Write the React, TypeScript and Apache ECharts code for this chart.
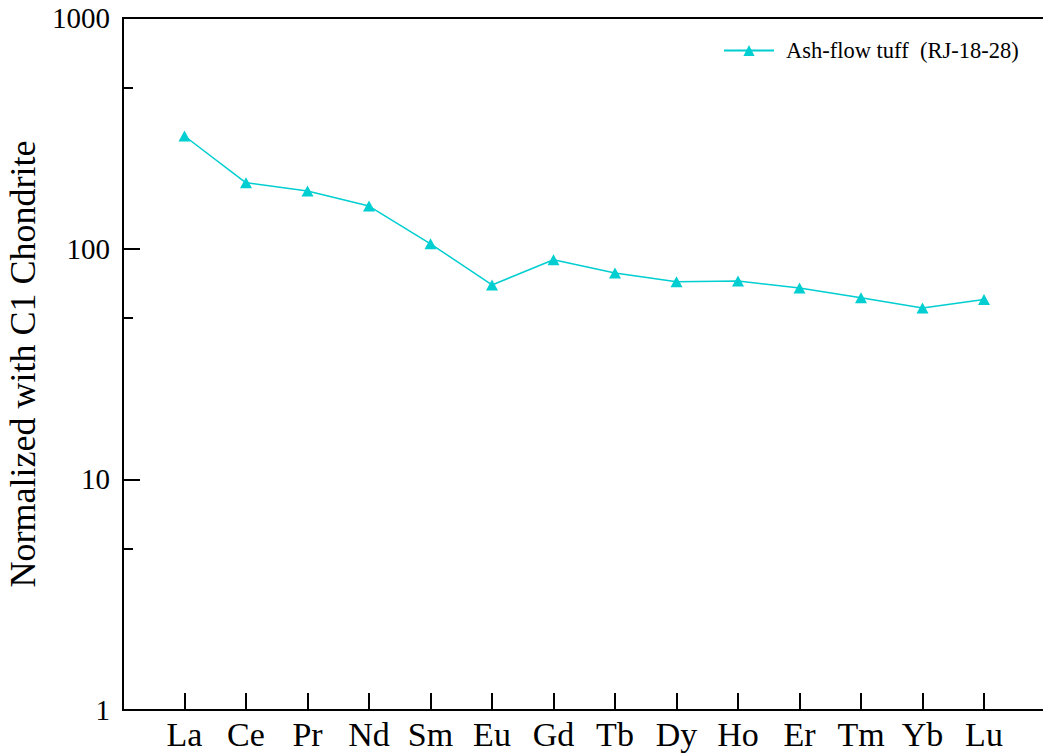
import React, { useEffect, useRef } from "react";
import * as echarts from "echarts";

const elements = ["La", "Ce", "Pr", "Nd", "Sm", "Eu", "Gd", "Tb", "Dy", "Ho", "Er", "Tm", "Yb", "Lu"];
const values = [308, 193, 178, 153, 105, 69.6, 89.5, 78.5, 71.8, 72.4, 67.6, 61.3, 55.3, 60.2];
const seriesName = "Ash-flow tuff  (RJ-18-28)";
const minorTickValues = [5, 50, 500];

const FONT = "'Liberation Serif', 'Times New Roman', serif";
const COLOR = "#00CED1";

export default function App() {
  const ref = useRef<HTMLDivElement>(null);
  useEffect(() => {
    if (!ref.current) return;
    const chart = echarts.init(ref.current, null, { renderer: "svg" });
    chart.setOption({
      animation: false,
      backgroundColor: "#fff",
      grid: {
        left: 123,
        top: 18,
        width: 922.5,
        height: 692,
        outerBoundsMode: "none",
        containLabel: false,
        show: true,
        borderColor: "#000",
        borderWidth: 2,
        backgroundColor: "transparent",
      },
      legend: {
        left: 723,
        top: 39,
        padding: 0,
        itemWidth: 50,
        itemHeight: 14,
        textStyle: { fontFamily: FONT, fontSize: 22.5, color: "#000", padding: [0, 0, 0, 7] },
        data: [seriesName],
      },
      xAxis: {
        type: "value",
        min: 0,
        max: elements.length + 1,
        interval: 1,
        splitLine: { show: false },
        axisLine: { show: true, onZero: false, lineStyle: { color: "#000", width: 2 } },
        axisTick: { show: true, inside: true, length: 17, lineStyle: { color: "#000", width: 2 } },
        axisLabel: {
          fontFamily: FONT,
          fontSize: 34,
          color: "#000",
          margin: 7,
          formatter: (v: number) => elements[v - 1] ?? "",
        },
      },
      yAxis: [
        {
          type: "log",
          logBase: 10,
          min: 1,
          max: 1000,
          name: "Normalized with C1 Chondrite",
          nameLocation: "middle",
          nameGap: 80,
          nameTextStyle: { fontFamily: FONT, fontSize: 36, color: "#000" },
          splitLine: { show: false },
          axisLine: { show: true, lineStyle: { color: "#000", width: 2 } },
          axisTick: { show: true, inside: true, length: 17, lineStyle: { color: "#000", width: 2 } },
          axisLabel: {
            fontFamily: FONT,
            fontSize: 29,
            color: "#000",
            margin: 13,
            formatter: (v: number) => String(Math.round(v)),
          },
        },
        {
          type: "value",
          min: 0,
          max: 3,
          position: "left",
          splitLine: { show: false },
          axisLine: { show: false },
          axisLabel: { show: false },
          axisTick: {
            show: true,
            inside: true,
            length: 10,
            customValues: minorTickValues.map((v) => Math.log10(v)),
            lineStyle: { color: "#000", width: 2 },
          },
        },
      ],
      series: [
        {
          name: seriesName,
          type: "line",
          yAxisIndex: 0,
          data: elements.map((_, i) => [i + 1, values[i]]),
          symbol: "triangle",
          symbolSize: [12, 11],
          lineStyle: { color: COLOR, width: 1.5 },
          itemStyle: { color: COLOR },
        },
      ],
    });
    return () => chart.dispose();
  }, []);
  return (
    <div
      ref={ref}
      style={{ position: "fixed", left: 0, top: 0, width: 1043, height: 756, background: "#fff" }}
    />
  );
}
